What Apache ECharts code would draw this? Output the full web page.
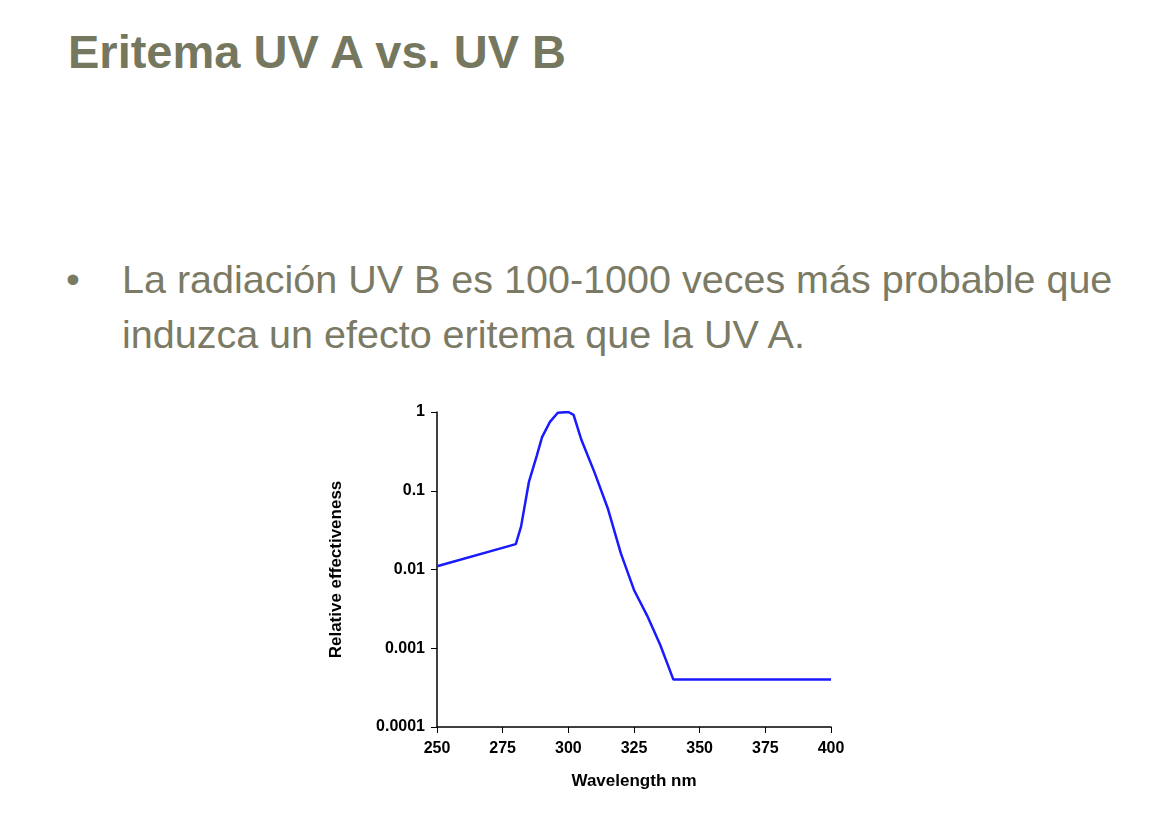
<!DOCTYPE html>
<html>
<head>
<meta charset="UTF-8">
<title>Eritema UV A vs. UV B</title>
<script src="https://cdn.jsdelivr.net/npm/echarts@6/dist/echarts.min.js"></script>
<style>
body{margin:0;background:#fff;font-family:Arial,"Liberation Sans",sans-serif;}
#title{position:absolute;left:68px;top:24px;font-size:47px;font-weight:bold;color:#76775f;}
#bullet{position:absolute;left:66px;top:252px;font-size:39.5px;color:#7b7a64;line-height:55px;}
#bullet span{position:absolute;left:0;}
#bullet div{margin-left:56px;width:1030px;}
#main{position:absolute;left:0;top:0;width:1167px;height:819px;}
</style>
</head>
<body>
<div id="title">Eritema UV A vs. UV B</div>
<div id="bullet"><span>•</span><div>La radiación UV B es 100-1000 veces más probable que induzca un efecto eritema que la UV A.</div></div>
<div id="main"></div>
<script>
// datos
var wavelengths = [250, 280, 282, 285, 288, 290, 293, 296, 300, 302, 305, 310, 315, 320, 325, 330, 335, 340, 400];
var effectiveness = [0.011, 0.021, 0.035, 0.13, 0.28, 0.48, 0.75, 0.98, 1.0, 0.92, 0.44, 0.17, 0.06, 0.016, 0.0055, 0.0026, 0.0011, 0.0004, 0.0004];
var xTicks = [250, 275, 300, 325, 350, 375, 400];

var seriesData = [];
for (var i = 0; i < wavelengths.length; i++) {
  seriesData.push([wavelengths[i], effectiveness[i]]);
}

var myChart = echarts.init(document.getElementById('main'));
var option = {
  animation: false,
  grid: {left: 437, right: 336, top: 412, bottom: 92},
  xAxis: {
    type: 'value', min: xTicks[0], max: xTicks[xTicks.length - 1], interval: 25,
    name: 'Wavelength nm', nameLocation: 'middle', nameGap: 46,
    nameTextStyle: {fontSize: 17, fontWeight: 'bold', color: '#000'},
    axisLine: {lineStyle: {color: '#000', width: 1.5}},
    axisTick: {lineStyle: {color: '#000'}, length: 6},
    axisLabel: {fontSize: 16, fontWeight: 'bold', color: '#000', margin: 14},
    splitLine: {show: false}
  },
  yAxis: {
    type: 'log', logBase: 10, min: 0.0001, max: 1,
    name: 'Relative effectiveness', nameLocation: 'middle', nameGap: 92,
    nameTextStyle: {fontSize: 17, fontWeight: 'bold', color: '#000'},
    axisLine: {show: true, lineStyle: {color: '#000', width: 1.5}},
    axisTick: {show: true, lineStyle: {color: '#000'}, length: 6},
    axisLabel: {fontSize: 16, fontWeight: 'bold', color: '#000', margin: 12,
      formatter: function (v) { return String(+v.toPrecision(1)); }},
    splitLine: {show: false}
  },
  series: [{
    type: 'line', data: seriesData, smooth: false, symbol: 'none',
    lineStyle: {color: '#1a1aff', width: 2.5}
  }]
};
myChart.setOption(option);
</script>
</body>
</html>
